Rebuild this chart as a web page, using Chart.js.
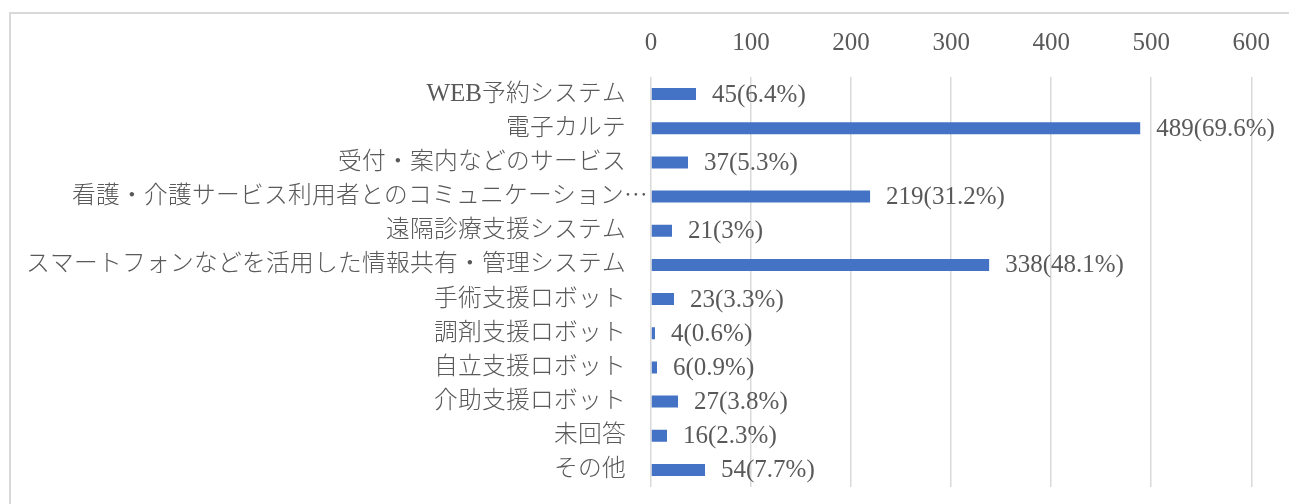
<!DOCTYPE html>
<html>
<head>
<meta charset="utf-8">
<script src="https://cdn.jsdelivr.net/npm/chart.js@4/dist/chart.umd.min.js"></script>
<style>
  @font-face {
    font-family: 'JPSans';
    src: local('NotoSansCJKjp-Light'), local('Noto Sans CJK JP Light'),
         local('NotoSansCJKjp-Regular'), local('Noto Sans CJK JP Regular'), local('Noto Sans CJK JP');
    size-adjust: 95%;
  }
  html, body { margin: 0; padding: 0; background: #fff; overflow: hidden; }
  #wrap { position: absolute; left: 0; top: 0; width: 1289px; height: 504px; overflow: hidden; }
  #frame { position: absolute; left: 9px; top: 12px; width: 1300px; height: 520px; border: 2px solid #d9d9d9; box-sizing: border-box; }
  canvas { position: absolute; left: 0; top: 0; }
</style>
</head>
<body>
<div id="wrap">
  <div id="frame"></div>
  <canvas id="c" width="1289" height="527"></canvas>
</div>
<script>
const categories = [
  'WEB予約システム',
  '電子カルテ',
  '受付・案内などのサービス',
  '看護・介護サービス利用者とのコミュニケーション⋯',
  '遠隔診療支援システム',
  'スマートフォンなどを活用した情報共有・管理システム',
  '手術支援ロボット',
  '調剤支援ロボット',
  '自立支援ロボット',
  '介助支援ロボット',
  '未回答',
  'その他'
];
const counts = [45, 489, 37, 219, 21, 338, 23, 4, 6, 27, 16, 54];
const percents = ['6.4', '69.6', '5.3', '31.2', '3', '48.1', '3.3', '0.6', '0.9', '3.8', '2.3', '7.7'];
const xTicks = [0, 100, 200, 300, 400, 500, 600];

const FONT_FAMILY = '"Liberation Serif", "JPSans", "Noto Sans CJK JP", serif';
const TEXT_COLOR = '#595959';
const FONT_SIZE = 25;

const labelPlugin = {
  id: 'barLabels',
  beforeDraw(chart) {
    // truncated category label overhangs toward the axis, as in the source chart
    const items = chart.scales.y.getLabelItems();
    categories.forEach((c, i) => {
      if (c.endsWith('⋯') && items[i] && !items[i]._shifted) {
        items[i].options.translation[0] += 22;
        items[i]._shifted = true;
      }
    });
  },
  afterDatasetsDraw(chart) {
    const ctx = chart.ctx;
    const meta = chart.getDatasetMeta(0);
    ctx.save();
    ctx.font = FONT_SIZE + 'px ' + FONT_FAMILY;
    ctx.fillStyle = TEXT_COLOR;
    ctx.textAlign = 'left';
    ctx.textBaseline = 'middle';
    meta.data.forEach((bar, i) => {
      const txt = counts[i] + '(' + percents[i] + '%)';
      ctx.fillText(txt, bar.x + 16, bar.y + 1);
    });
    ctx.restore();
  }
};

function draw() {
  new Chart(document.getElementById('c'), {
    type: 'bar',
    data: {
      labels: categories,
      datasets: [{
        data: counts,
        backgroundColor: '#4472C4',
        borderWidth: 0,
        categoryPercentage: 1,
        barPercentage: 0.35
      }]
    },
    options: {
      indexAxis: 'y',
      responsive: false,
      animation: false,
      devicePixelRatio: 1,
      layout: { padding: { left: 0, right: 35, top: 0, bottom: 0 } },
      plugins: { legend: { display: false }, tooltip: { enabled: false }, title: { display: false } },
      scales: {
        x: {
          position: 'top',
          min: 0,
          max: 600,
          afterBuildTicks(scale) { scale.ticks = xTicks.map(v => ({ value: v })); },
          afterFit(scale) { scale.height = 77; },
          ticks: {
            padding: 19,
            color: TEXT_COLOR,
            font: { family: FONT_FAMILY, size: FONT_SIZE }
          },
          grid: { color: '#d9d9d9', lineWidth: 1.5, drawTicks: false },
          border: { display: false }
        },
        y: {
          afterFit(scale) { scale.width = 651; },
          ticks: {
            padding: 25,
            color: TEXT_COLOR,
            autoSkip: false,
            font: { family: FONT_FAMILY, size: FONT_SIZE }
          },
          grid: { display: false, drawTicks: false },
          border: { display: false }
        }
      }
    },
    plugins: [labelPlugin]
  });
}

Promise.all([
  document.fonts.load('25px JPSans', 'あ電'),
  document.fonts.load('25px "Liberation Serif"', '0')
]).then(draw, draw);
</script>
</body>
</html>
